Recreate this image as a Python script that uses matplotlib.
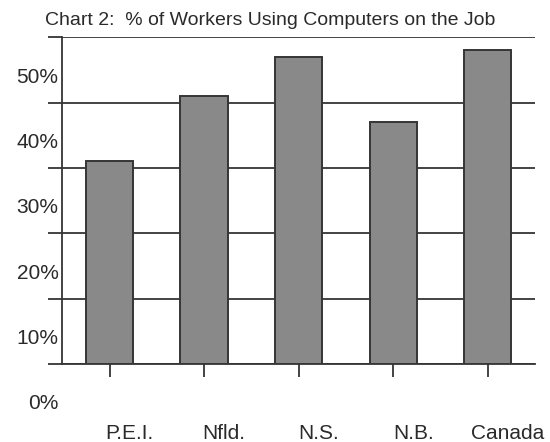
import matplotlib.pyplot as plt
import matplotlib.transforms as mtransforms
import numpy as np

plt.rcParams['font.family'] = ['Liberation Sans', 'DejaVu Sans']

# % of workers using computers on the job
regions = ['P.E.I.', 'Nfld.', 'N.S.', 'N.B.', 'Canada']
pct_computer_use = [31, 41, 47, 37, 48]
y_ticks = [0, 10, 20, 30, 40, 50]
y_tick_labels = ['0%', '10%', '20%', '30%', '40%', '50%']

line_col = '#353535'
bar_col = '#898989'
text_col = '#2a2a2a'

fig = plt.figure(figsize=(5.5, 4.42), dpi=100)
ax = fig.add_axes([0.1133, 0.1765, 0.8595, 0.7391])

x = np.arange(len(regions))
ax.bar(x, pct_computer_use, width=0.5, color=bar_col, edgecolor=line_col,
       linewidth=1.4, zorder=3)

ax.set_xlim(-0.5, len(regions) - 0.5)
ax.set_ylim(0, 50)
ax.set_yticks(y_ticks)
ax.set_yticklabels(y_tick_labels, fontsize=15, color=text_col)
ax.set_xticks(x)
ax.set_xticklabels(regions, fontsize=15, color=text_col)

ax.yaxis.grid(True, color=line_col, linewidth=1.3, zorder=1)
ax.set_axisbelow(True)
for side in ['right', 'top']:
    ax.spines[side].set_visible(False)
for side in ['left', 'bottom']:
    ax.spines[side].set_color(line_col)
    ax.spines[side].set_linewidth(1.3)

ax.tick_params(axis='y', length=10, width=1.3, color=line_col, pad=0)
ax.tick_params(axis='x', length=9, width=1.3, color=line_col, pad=34)

# the labels sit off the gridlines/ticks, as in the printed chart
dpi = fig.dpi
for lab in ax.get_yticklabels():
    lab.set_transform(lab.get_transform() +
                      mtransforms.ScaledTranslation(10 / dpi, -38 / dpi, fig.dpi_scale_trans))
for lab in ax.get_xticklabels():
    lab.set_transform(lab.get_transform() +
                      mtransforms.ScaledTranslation(20 / dpi, 0, fig.dpi_scale_trans))

fig.text(45 / 550, 1 - 20.5 / 442, 'Chart 2:  % of Workers Using Computers on the Job',
         fontsize=14, color=text_col, ha='left', va='center')

fig.savefig('out.png', dpi=100)
